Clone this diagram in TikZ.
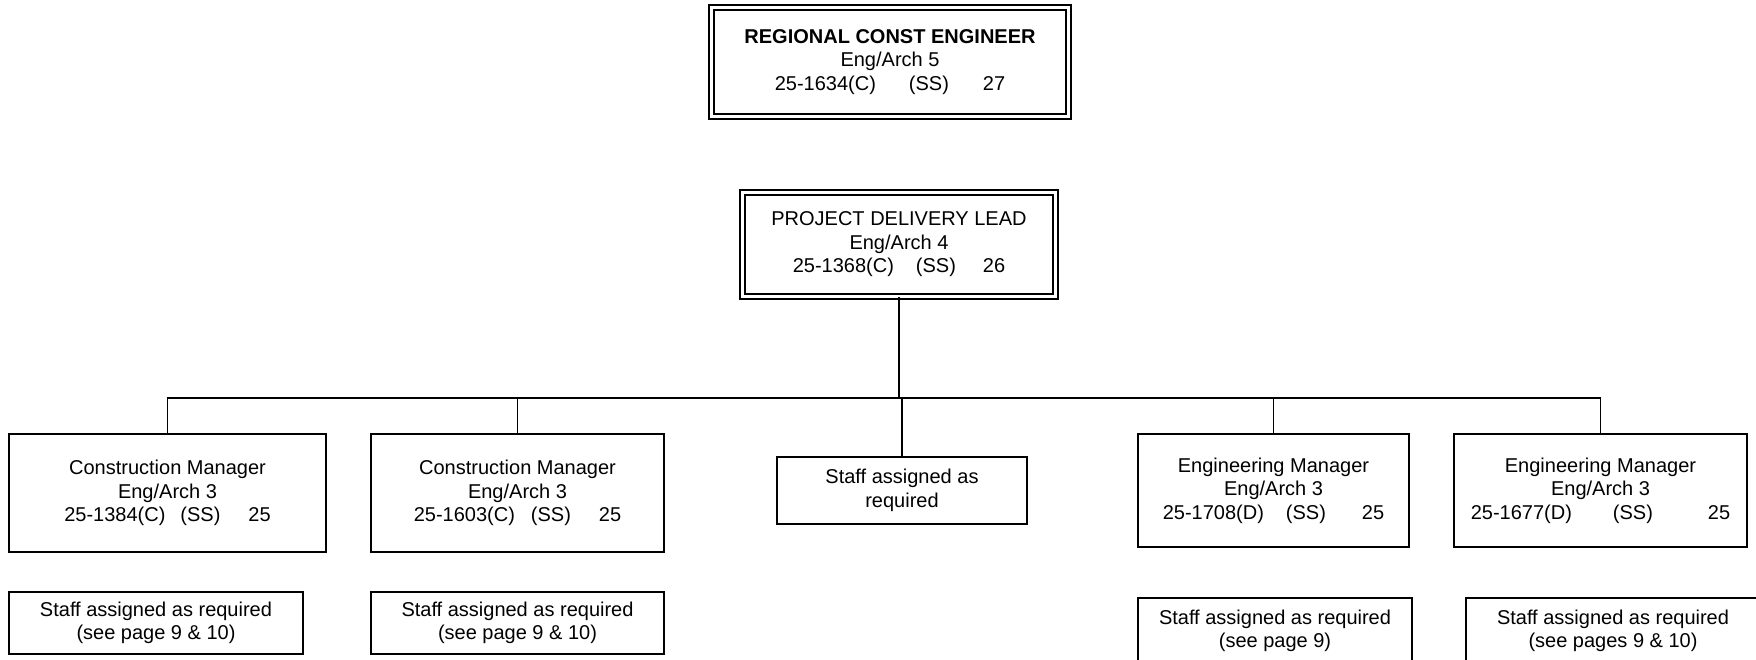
\documentclass[tikz,border=0pt]{standalone}
\usepackage{fontspec}
\setmainfont{Liberation Sans}
\tikzset{
  box/.style={draw, line width=1.3pt, inner sep=0pt, align=center,
              font=\fontsize{20}{23.5}\selectfont},
  dbox/.style={box, double, double distance=3.6pt, line width=1.4pt},
  link/.style={line width=1.3pt},
  buscore/.style={line width=2pt},
  trunk/.style={line width=2.6pt},
}
\begin{document}
\begin{tikzpicture}[x=1pt,y=-1pt]
\useasboundingbox (0,0) rectangle (1756,659);
\clip (0,0) rectangle (1756,659);
\node[dbox, minimum width=357pt, minimum height=109pt] (rce) at (890,62)
  {\textbf{REGIONAL CONST ENGINEER}\\Eng/Arch 5\\25-1634(C)\hspace{33pt}(SS)\hspace{34pt}27};
\node[dbox, minimum width=313pt, minimum height=104pt] (pdl) at (899,244.5)
  {PROJECT DELIVERY LEAD\\Eng/Arch 4\\25-1368(C)\hspace{22pt}(SS)\hspace{27pt}26};
\node[box, minimum width=317pt, minimum height=118pt] (cm1) at (167.5,493)
  {Construction Manager\\Eng/Arch 3\\25-1384(C)\hspace{15pt}(SS)\hspace{28pt}25};
\node[box, minimum width=293pt, minimum height=118pt] (cm2) at (517.5,493)
  {Construction Manager\\Eng/Arch 3\\25-1603(C)\hspace{16pt}(SS)\hspace{28pt}25};
\node[box, minimum width=250pt, minimum height=67pt] (sc) at (902,490.5)
  {Staff assigned as\\required};
\node[box, minimum width=271pt, minimum height=113pt] (em1) at (1273.5,490.5)
  {Engineering Manager\\Eng/Arch 3\\25-1708(D)\hspace{22pt}(SS)\hspace{36pt}25};
\node[box, minimum width=293pt, minimum height=113pt] (em2) at (1600.5,490.5)
  {Engineering Manager\\Eng/Arch 3\\25-1677(D)\hspace{41pt}(SS)\hspace{55pt}25};
\node[box, minimum width=294pt, minimum height=62pt] (s1) at (156,623)
  {Staff assigned as required\\(see page 9 \& 10)};
\node[box, minimum width=293pt, minimum height=62pt] (s2) at (517.5,623)
  {Staff assigned as required\\(see page 9 \& 10)};
\node[box, minimum width=274pt, minimum height=66pt] (s3) at (1275,631)
  {Staff assigned as required\\(see page 9)};
\node[box, minimum width=294pt, minimum height=66pt] (s4) at (1613,631)
  {Staff assigned as required\\(see pages 9 \& 10)};
\coordinate (bus) at (0,398);
\draw[trunk] (pdl.south) -- (pdl.south |- bus);
\draw[link] (cm1.north) -- (cm1.north |- bus) -- (em2.north |- bus) -- (em2.north);
\draw[buscore] (cm2.north |- bus) -- (em1.north |- bus);
\foreach \n in {cm2,sc,em1} \draw[link] (\n.north |- bus) -- (\n.north);
\end{tikzpicture}
\end{document}
